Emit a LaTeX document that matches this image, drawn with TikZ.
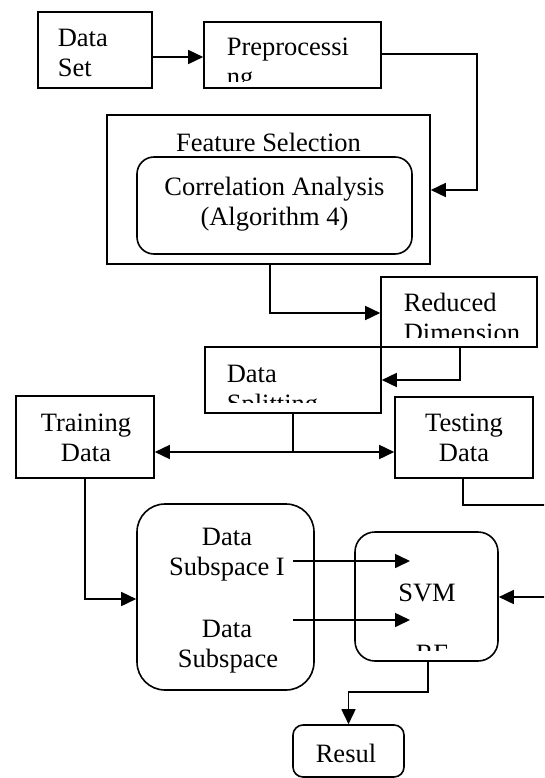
\documentclass[tikz,border=0pt]{standalone}
\usepackage{fontspec}
\setmainfont{Liberation Serif}
\usetikzlibrary{arrows.meta}
\begin{document}
\begin{tikzpicture}[x=1pt,y=-1pt,
  line width=1.6pt,
  box/.style={draw,rectangle,inner sep=0pt},
  rbox/.style={draw,rectangle,inner sep=0pt},
  txt/.style={inner sep=0pt,font=\fontsize{26.5}{30}\selectfont},
  arr/.style={-{Triangle[length=15pt,width=14pt]}},
  arrb/.style={{Triangle[length=15pt,width=14pt]}-{Triangle[length=15pt,width=14pt]}}]
\clip (0,0) rectangle (544,778);
% boxes
\node[box,minimum width=114pt,minimum height=76pt] (ds) at (95,50) {};
\node[box,minimum width=177pt,minimum height=66pt] (pre) at (292.5,55) {};
\node[box,minimum width=323pt,minimum height=149pt] (fs) at (268.5,189.5) {};
\node[rbox,rounded corners=17pt,minimum width=275pt,minimum height=97pt] (ca) at (274.5,205.5) {};
\node[box,minimum width=156pt,minimum height=70pt] (rd) at (459,312) {};
\node[box,minimum width=176pt,minimum height=66pt] (spl) at (293,380) {};
\node[box,minimum width=138pt,minimum height=82pt] (tr) at (85,437) {};
\node[box,minimum width=138pt,minimum height=81pt] (te) at (464,437.5) {};
\node[rbox,rounded corners=28pt,minimum width=177pt,minimum height=186pt] (sub) at (225.5,597) {};
\node[rbox,rounded corners=20pt,minimum width=143pt,minimum height=129pt] (svm) at (426.5,596.5) {};
\node[rbox,rounded corners=10pt,minimum width=111pt,minimum height=52pt] (res) at (348.5,751) {};
% texts
\node[txt,anchor=base west] (t1) at (57,47) {Data};
\node[txt,anchor=base west] (t2) at (57,77) {Set};
\begin{scope}
\clip (204,22) rectangle (381,82);
\node[txt,anchor=base west] (t3) at (226,56) {Preprocessi};
\node[txt,anchor=base west] (t4) at (226,86) {ng};
\end{scope}
\node[txt,anchor=base] (t5) at (268.5,152) {Feature Selection};
\node[txt,anchor=base] (t6) at (274.5,195) {Correlation Analysis};
\node[txt,anchor=base] (t7) at (274.5,225) {(Algorithm 4)};
\begin{scope}
\clip (381,277) rectangle (537,337);
\node[txt,anchor=base west] (t8) at (403,311) {Reduced};
\node[txt,anchor=base west] (t9) at (403,341) {Dimension};
\end{scope}
\begin{scope}
\clip (205,347) rectangle (381,402);
\node[txt,anchor=base west] (t10) at (226,382) {Data};
\node[txt,anchor=base west] (t11) at (226,412) {Splitting};
\end{scope}
\node[txt,anchor=base] (t12) at (86,431) {Training};
\node[txt,anchor=base] (t13) at (86,461) {Data};
\node[txt,anchor=base] (t14) at (464,431) {Testing};
\node[txt,anchor=base] (t15) at (464,461) {Data};
\node[txt,anchor=base] (t16) at (227,545) {Data};
\node[txt,anchor=base] (t17) at (227,575) {Subspace I};
\node[txt,anchor=base] (t18) at (227,637) {Data};
\node[txt,anchor=base] (t19) at (228,667) {Subspace};
\node[txt,anchor=base] (t20) at (427,601) {SVM};
\begin{scope}
\clip (355,532) rectangle (498,650);
\node[txt,anchor=base] (t21) at (432,662) {RF};
\end{scope}
\node[txt,anchor=base] (t22) at (346,762) {Resul};
% connectors
\draw[arr] (ds.east |- 0,57) -- (pre.west |- 0,57);
\draw[arr] (pre.east |- 0,54) -| (477,190) -- (fs.east |- 0,190);
\draw[arr] (fs.south -| 270,0) |- (rd.west |- 0,313);
\draw[arr] (rd.south -| 460,0) |- (spl.east |- 0,380);
\coordinate (j) at (spl.south |- 0,452);
\draw (spl.south) -- (j);
\draw[arrb] (tr.east |- j) -- (te.west |- j);
\draw[arr] (te.south -| 463,0) |- (552,505) |- (svm.east |- 0,597);
\draw[arr] (tr.south) |- (sub.west |- 0,599);
\coordinate (a1) at (293,561);
\coordinate (b1) at (410,561);
\coordinate (a2) at (293,620);
\coordinate (b2) at (410,620);
\draw[arr] (a1) -- (b1);
\draw[arr] (a2) -- (b2);
\draw[arr] (svm.south -| 428,0) -- (428,692) -| (res.north);
\end{tikzpicture}
\end{document}
